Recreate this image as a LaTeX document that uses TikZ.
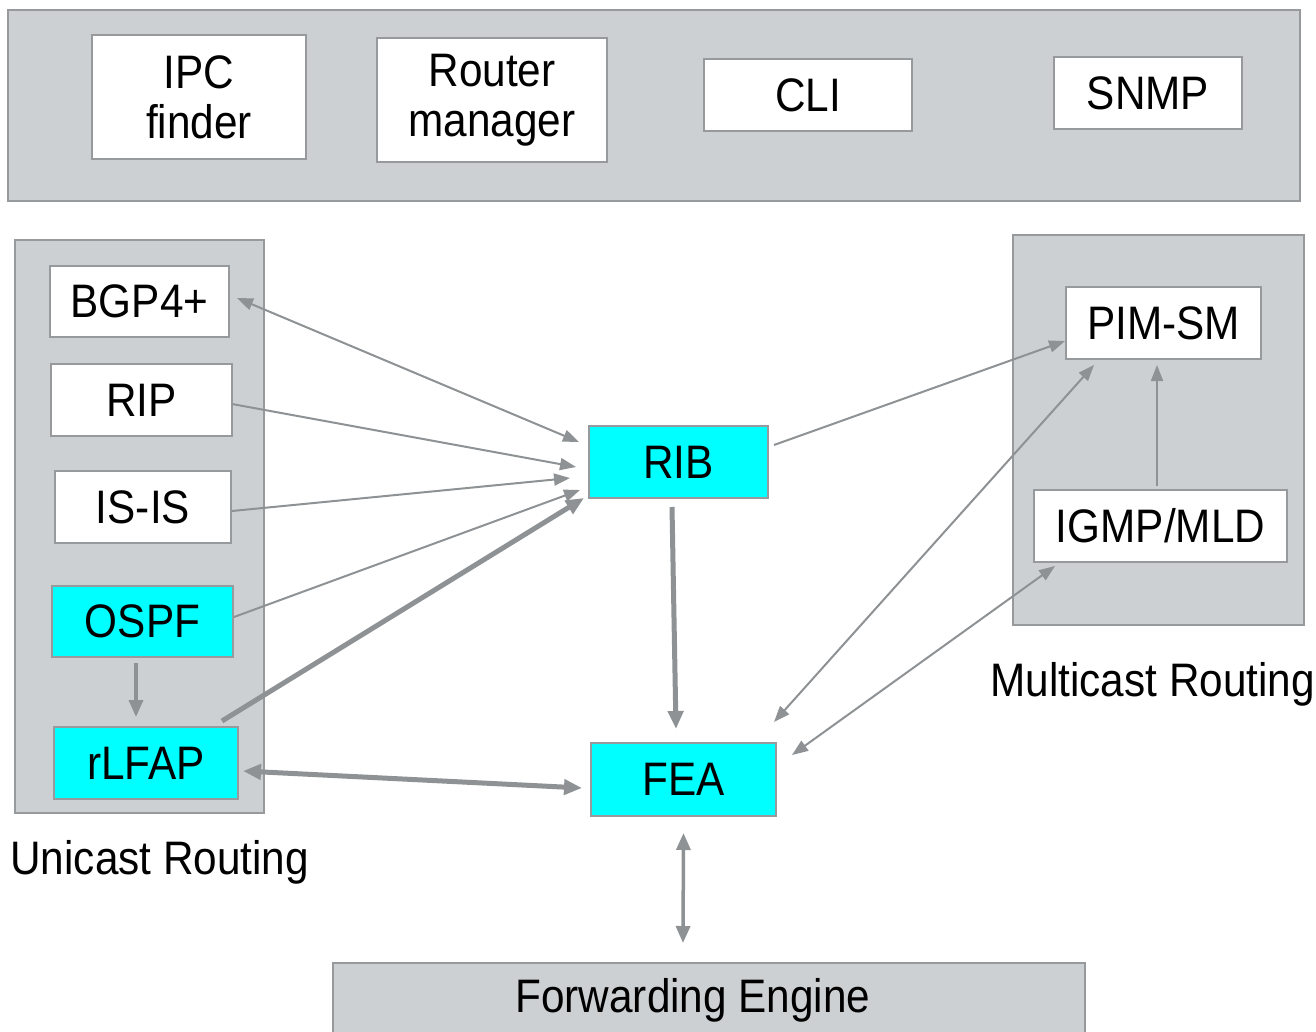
\documentclass[tikz,border=0pt]{standalone}
\usepackage{fontspec}
\setmainfont{Liberation Sans}[FakeStretch=0.9]
\usetikzlibrary{arrows.meta,calc}
\definecolor{kasten}{RGB}{205,208,210}
\definecolor{rand}{RGB}{150,154,156}
\definecolor{pfeil}{RGB}{142,146,148}
\definecolor{tuerkis}{RGB}{0,255,255}
\begin{document}
\begin{tikzpicture}[x=0.5pt,y=-0.5pt,
  gruppe/.style={draw=rand,fill=kasten,line width=1pt,inner sep=0pt},
  modul/.style={draw=rand,fill=white,line width=1pt,inner sep=0pt,align=center,
    font=\fontsize{23.5}{25}\selectfont},
  aktiv/.style={modul,fill=tuerkis},
  titel/.style={inner sep=0pt,anchor=west,font=\fontsize{23.5}{25}\selectfont},
  duenn/.style={draw=pfeil,line width=1pt,-{Triangle[length=8pt,width=6pt]}},
  mittel/.style={draw=pfeil,line width=1.75pt,-{Triangle[length=8.5pt,width=7pt]}},
  dick/.style={draw=pfeil,line width=2.5pt,-{Triangle[length=9pt,width=7.5pt]}}]
\useasboundingbox (0,0) rectangle (1316,1032);
% Verwaltung oben
\node[gruppe,minimum width=646pt,minimum height=95.5pt] (verwaltung) at (654,105.5) {};
\node[modul,minimum width=107pt,minimum height=62pt] (ipc) at (199,97) {IPC\\finder};
\node[modul,minimum width=115pt,minimum height=62pt] (rtrmgr) at (492,100) {Router\\manager};
\node[modul,minimum width=104pt,minimum height=36pt] (cli) at (808,95) {CLI};
\node[modul,minimum width=94pt,minimum height=36pt] (snmp) at (1148,93) {SNMP};
% Unicast Routing
\node[gruppe,minimum width=124.5pt,minimum height=286.5pt] (unicast) at (139.5,526.5) {};
\node[modul,minimum width=89.5pt,minimum height=35.5pt] (bgp) at (139.5,301.5) {BGP4+};
\node[modul,minimum width=90.5pt,minimum height=36pt] (rip) at (141.5,400) {RIP};
\node[modul,minimum width=88pt,minimum height=36pt] (isis) at (143,507) {IS-IS};
\node[aktiv,minimum width=90.5pt,minimum height=35.5pt] (ospf) at (142.5,621.5) {OSPF};
\node[aktiv,minimum width=92pt,minimum height=36pt] (rlfap) at (146,763) {rLFAP};
\node[titel] (unicastname) at (10,862) {Unicast Routing};
% Multicast Routing
\node[gruppe,minimum width=145.5pt,minimum height=195pt] (multicast) at (1158.5,430) {};
\node[modul,minimum width=97.5pt,minimum height=36pt] (pim) at (1163.5,323) {PIM-SM};
\node[modul,minimum width=126.5pt,minimum height=36pt] (igmp) at (1160.5,526) {IGMP/MLD};
\node[titel] (multicastname) at (990,684) {Multicast Routing};
% RIB, FEA und Forwarding Engine
\node[aktiv,minimum width=89.5pt,minimum height=36pt] (rib) at (678.5,462) {RIB};
\node[aktiv,minimum width=92.5pt,minimum height=36.5pt] (fea) at (683.5,779.5) {FEA};
\node[gruppe,minimum width=376pt,minimum height=45pt,
  label={[xshift=-8pt,yshift=4pt,font=\fontsize{23.5}{25}\selectfont]center:Forwarding Engine}] (fe) at (709,1008) {};
% Pfeile zum RIB
\draw[duenn,{Triangle[length=8pt,width=6pt]}-{Triangle[length=8pt,width=6pt]}]
  ($(bgp.east)+(7,-3.5)$) -- ($(rib.west)+(-9,-20)$);
\draw[duenn] ($(rip.east)+(-1,4)$) -- ($(rib.west)+(-12,5)$);
\draw[duenn] ($(isis.east)+(0,4)$) -- ($(rib.west)+(-18,16)$);
\draw[duenn] ($(ospf.east)+(0,-4.5)$) -- ($(rib.west)+(-8,28)$);
\draw[dick] ($(rlfap.north east)+(-17,-5)$) -- ($(rib.south west)+(-4,-1)$);
\draw[mittel] ($(ospf.south)+(-6.5,5)$) -- ($(rlfap.north)+(-10,-9)$);
% Pfeile zur FEA
\draw[dick,{Triangle[length=9pt,width=7.5pt]}-{Triangle[length=9pt,width=7.5pt]}]
  ($(rlfap.east)+(4,8)$) -- ($(fea.west)+(-8,8.5)$);
\draw[dick] ($(rib.south)+(-6.5,8)$) -- ($(fea.north)+(-7.5,-13)$);
\draw[mittel,{Triangle[length=8.5pt,width=7pt]}-{Triangle[length=8.5pt,width=7pt]}]
  ($(fea.south)+(0,16)$) -- ($(fe.north)+(-26,-19)$);
% Multicast
\draw[duenn] ($(rib.east)+(5,-17)$) -- ($(pim.south west)+(0,-19)$);
\draw[duenn,{Triangle[length=8pt,width=6pt]}-{Triangle[length=8pt,width=6pt]}]
  ($(fea.north east)+(-3,-20)$) -- ($(pim.south west)+(29,5)$);
\draw[duenn,{Triangle[length=8pt,width=6pt]}-{Triangle[length=8pt,width=6pt]}]
  ($(fea.north east)+(15,13)$) -- ($(igmp.south west)+(22,3)$);
\draw[duenn] ($(igmp.north)+(-3.5,-3)$) -- ($(pim.south)+(-6.5,5)$);
\end{tikzpicture}
\end{document}
